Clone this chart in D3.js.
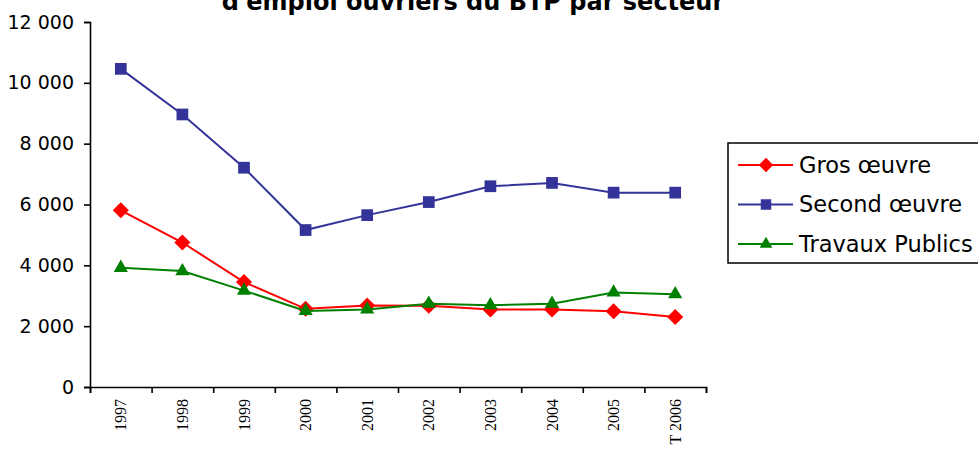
<!DOCTYPE html>
<html>
<head>
<meta charset="utf-8">
<script src="https://cdn.jsdelivr.net/npm/d3@7"></script>
<style>
  body { margin: 0; background: #fff; }
  svg { display: block; }
</style>
</head>
<body>
<svg id="chart" width="978" height="452"></svg>
<script>
var years = ["1997", "1998", "1999", "2000", "2001", "2002", "2003", "2004", "2005", "T 2006"];
var grosOeuvre = [5810, 4750, 3450, 2570, 2680, 2670, 2550, 2550, 2490, 2300];
var secondOeuvre = [10460, 8960, 7210, 5160, 5650, 6080, 6600, 6710, 6390, 6390];
var travauxPublics = [3920, 3810, 3170, 2500, 2550, 2740, 2690, 2740, 3110, 3050];
var yTicks = [0, 2000, 4000, 6000, 8000, 10000, 12000];

var series = [
    { name: "Gros œuvre", vals: grosOeuvre, color: "#ff0000", shape: "diamond" },
    { name: "Second œuvre", vals: secondOeuvre, color: "#333399", shape: "square" },
    { name: "Travaux Publics", vals: travauxPublics, color: "#008000", shape: "triangle" }
];

var margin = {left: 90, right: 272, top: 22, bottom: 65};
var width = 978, height = 452;
var svg = d3.select("#chart");

var x = d3.scaleBand()
    .domain(years)
    .range([margin.left, width - margin.right]);
var xEdges = d3.scaleLinear()
    .domain([0, years.length])
    .range([margin.left, width - margin.right]);
var y = d3.scaleLinear()
    .domain([0, 12000])
    .range([height - margin.bottom, margin.top]);

var fmt = function(d) { return d3.format(",")(d).replace(/,/g, " "); };

// title (first line is above the picture)
svg.append("text")
    .attr("x", 473)
    .attr("y", 10)
    .attr("text-anchor", "middle")
    .style("font-family", "DejaVu Sans, Verdana, sans-serif")
    .style("font-weight", "bold")
    .style("font-size", "24px")
    .text("d'emploi ouvriers du BTP par secteur");

// y axis
var yAxis = svg.append("g")
    .attr("transform", "translate(" + margin.left + ",0)")
    .call(d3.axisLeft(y).tickValues(yTicks).tickSize(6).tickPadding(10).tickFormat(fmt));
yAxis.selectAll("text")
    .style("font-family", "DejaVu Sans, Verdana, sans-serif")
    .style("font-size", "19px")
    .attr("fill", "#000");
yAxis.selectAll("line, path").attr("stroke", "#000").attr("stroke-width", 1.6);

// x axis: tick marks on band edges
var xAxis = svg.append("g")
    .attr("transform", "translate(0," + (height - margin.bottom) + ")")
    .call(d3.axisBottom(xEdges).tickValues(d3.range(years.length + 1)).tickSize(6).tickFormat(""));
xAxis.selectAll("line, path").attr("stroke", "#000").attr("stroke-width", 1.6);

svg.append("g").selectAll("text")
    .data(years)
    .join("text")
    .attr("transform", function(d) {
        return "translate(" + (x(d) + x.bandwidth() / 2) + "," + (height - margin.bottom + 12) + ") rotate(-90)";
    })
    .attr("dy", "0.35em")
    .attr("text-anchor", "end")
    .style("font-family", "Liberation Serif, Times New Roman, serif")
    .style("font-size", "16px")
    .text(function(d) { return d; });

function marker(shape, size) {
    var sym = shape == "diamond" ? d3.symbolDiamond2 : (shape == "square" ? d3.symbolSquare2 : d3.symbolTriangle2);
    return d3.symbol().type(sym).size(size)();
}
var symSize = {diamond: 165, square: 175, triangle: 145};

var line = d3.line()
    .x(function(d, i) { return x(years[i]) + x.bandwidth() / 2; })
    .y(function(d) { return y(d); });

series.forEach(function(s) {
    svg.append("path")
        .datum(s.vals)
        .attr("d", line)
        .attr("fill", "none")
        .attr("stroke", s.color)
        .attr("stroke-width", 2);
    svg.append("g").selectAll("path")
        .data(s.vals)
        .join("path")
        .attr("transform", function(d, i) {
            return "translate(" + (x(years[i]) + x.bandwidth() / 2) + "," + y(d) + ")";
        })
        .attr("d", marker(s.shape, symSize[s.shape]))
        .attr("fill", s.color);
});

// legend
var legend = svg.append("g").attr("transform", "translate(728,143)");
legend.append("rect")
    .attr("x", 0).attr("y", 0)
    .attr("width", 260).attr("height", 120)
    .attr("fill", "#fff")
    .attr("stroke", "#000")
    .attr("stroke-width", 1.5);
series.forEach(function(s, j) {
    var g = legend.append("g").attr("transform", "translate(0," + (22 + j * 39.5) + ")");
    g.append("line")
        .attr("x1", 10).attr("x2", 65)
        .attr("stroke", s.color).attr("stroke-width", 2);
    g.append("path")
        .attr("transform", "translate(38,0)")
        .attr("d", marker(s.shape, symSize[s.shape] * 0.8))
        .attr("fill", s.color);
    g.append("text")
        .attr("x", 71)
        .attr("dy", "0.35em")
        .style("font-family", "DejaVu Sans, Verdana, sans-serif")
        .style("font-size", "22.5px")
        .text(s.name);
});
</script>
</body>
</html>
